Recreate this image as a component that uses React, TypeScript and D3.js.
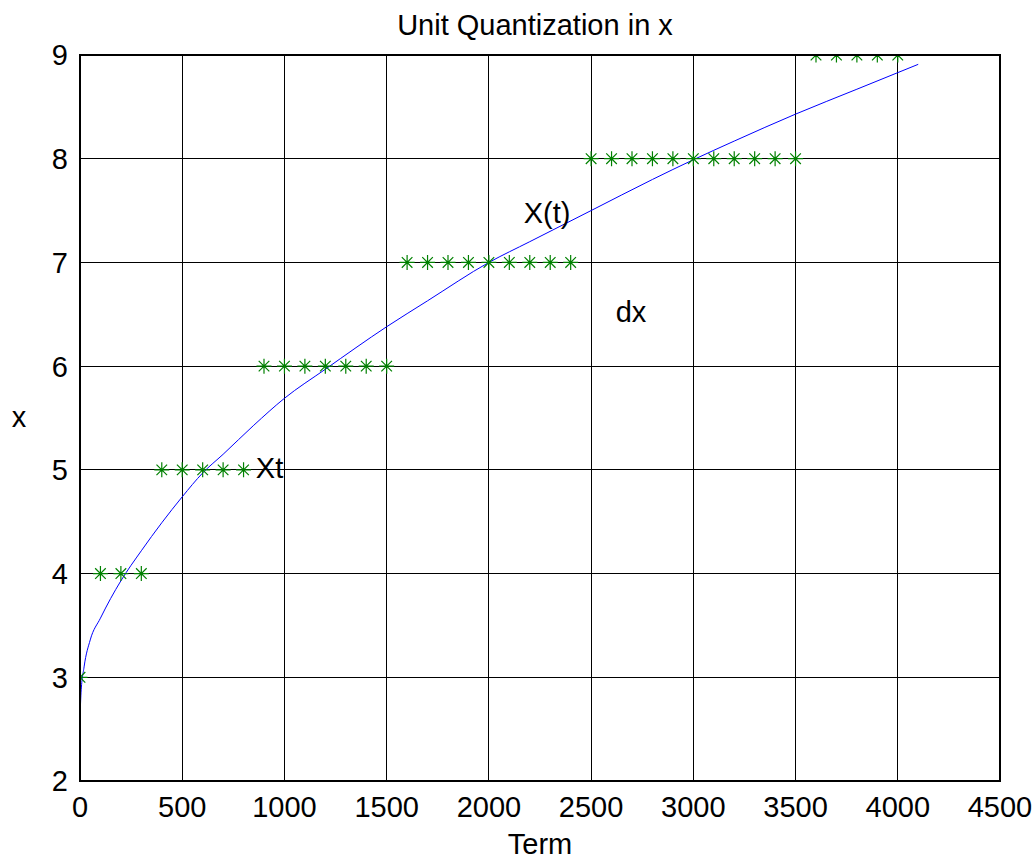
import React from "react";
import * as d3 from "d3";

// quantized samples (green stars)
const termSamples = [
  0, 100, 200, 300, 400, 500, 600, 700, 800, 900, 1000, 1100, 1200, 1300, 1400,
  1500, 1600, 1700, 1800, 1900, 2000, 2100, 2200, 2300, 2400, 2500, 2600, 2700,
  2800, 2900, 3000, 3100, 3200, 3300, 3400, 3500, 3600, 3700, 3800, 3900, 4000,
];
const quantValues = [
  3, 4, 4, 4, 5, 5, 5, 5, 5, 6, 6, 6, 6, 6, 6, 6, 7, 7, 7, 7, 7, 7, 7, 7, 7, 8,
  8, 8, 8, 8, 8, 8, 8, 8, 8, 8, 9, 9, 9, 9, 9,
];

// continuous X(t)
const curveTerm = [
  0, 5, 20, 50, 100, 150, 200, 300, 400, 500, 600, 700, 850, 1000, 1200, 1500,
  1700, 2000, 2200, 2500, 2800, 3000, 3200, 3500, 3800, 4000, 4100,
];
const curveValues = [
  2.6, 2.85, 3.1, 3.36, 3.57, 3.76, 3.93, 4.22, 4.49, 4.74, 4.97, 5.15, 5.43,
  5.69, 5.97, 6.38, 6.63, 7.0, 7.2, 7.5, 7.8, 7.99, 8.17, 8.43, 8.67, 8.83,
  8.91,
];

const xTicks = [0, 500, 1000, 1500, 2000, 2500, 3000, 3500, 4000, 4500];
const yTicks = [2, 3, 4, 5, 6, 7, 8, 9];

const labels = [
  { text: "Xt", t: 860, v: 4.92 },
  { text: "X(t)", t: 2170, v: 7.38 },
  { text: "dx", t: 2620, v: 6.43 },
];

const W = 1033;
const H = 859;
const left = 80;
const right = 1000;
const top = 55;
const bottom = 781;
const fs = 29;
const font = "'Liberation Sans', Arial, Helvetica, sans-serif";

export default function App() {
  const x = d3.scaleLinear().domain([0, 4500]).range([left, right]);
  const y = d3.scaleLinear().domain([2, 9]).range([bottom, top]);

  const line = d3
    .line<number>()
    .x((d, i) => x(curveTerm[i]))
    .y((d) => y(d))
    .curve(d3.curveMonotoneX);

  const r = 7.5;
  const d45 = r * Math.SQRT1_2;
  const star = `M${-r},0H${r}M0,${-r}V${r}M${-d45},${-d45}L${d45},${d45}M${-d45},${d45}L${d45},${-d45}`;

  return (
    <svg
      width={W}
      height={H}
      style={{ position: "absolute", left: 0, top: 0, background: "#fff" }}
      fontFamily={font}
    >
      <defs>
        <clipPath id="plotClip">
          <rect x={left} y={top} width={right - left} height={bottom - top} />
        </clipPath>
      </defs>
      <rect width={W} height={H} fill="#fff" />

      {/* grid */}
      <g stroke="#000" strokeWidth={1} shapeRendering="crispEdges">
        {xTicks.map((t) => (
          <line key={"gx" + t} x1={x(t)} x2={x(t)} y1={top} y2={bottom} />
        ))}
        {yTicks.map((t) => (
          <line key={"gy" + t} x1={left} x2={right} y1={y(t)} y2={y(t)} />
        ))}
      </g>

      <g clipPath="url(#plotClip)">
        <path
          d={line(curveValues) || ""}
          fill="none"
          stroke="#0000ff"
          strokeWidth={1}
        />
        <g stroke="#008000" strokeWidth={1.2} fill="none">
          {termSamples.map((t, i) => (
            <path
              key={"s" + t}
              d={star}
              transform={`translate(${x(t)},${y(quantValues[i])})`}
            />
          ))}
        </g>
      </g>

      {/* box */}
      <rect
        x={left}
        y={top}
        width={right - left}
        height={bottom - top}
        fill="none"
        stroke="#000"
        strokeWidth={2}
      />

      {/* tick labels */}
      <g fontSize={fs} fill="#000">
        {xTicks.map((t) => (
          <text key={"tx" + t} x={x(t)} y={817} textAnchor="middle">
            {t}
          </text>
        ))}
        {yTicks.map((t) => (
          <text
            key={"ty" + t}
            x={68}
            y={y(t)}
            dy="0.36em"
            textAnchor="end"
          >
            {t}
          </text>
        ))}
      </g>

      <text x={535} y={35} fontSize={fs} textAnchor="middle">
        Unit Quantization in x
      </text>
      <text x={540} y={854} fontSize={fs} textAnchor="middle">
        Term
      </text>
      <text x={19} y={427} fontSize={fs} textAnchor="middle">
        x
      </text>

      {labels.map((l) => (
        <text key={l.text} x={x(l.t)} y={y(l.v)} fontSize={fs}>
          {l.text}
        </text>
      ))}
    </svg>
  );
}
